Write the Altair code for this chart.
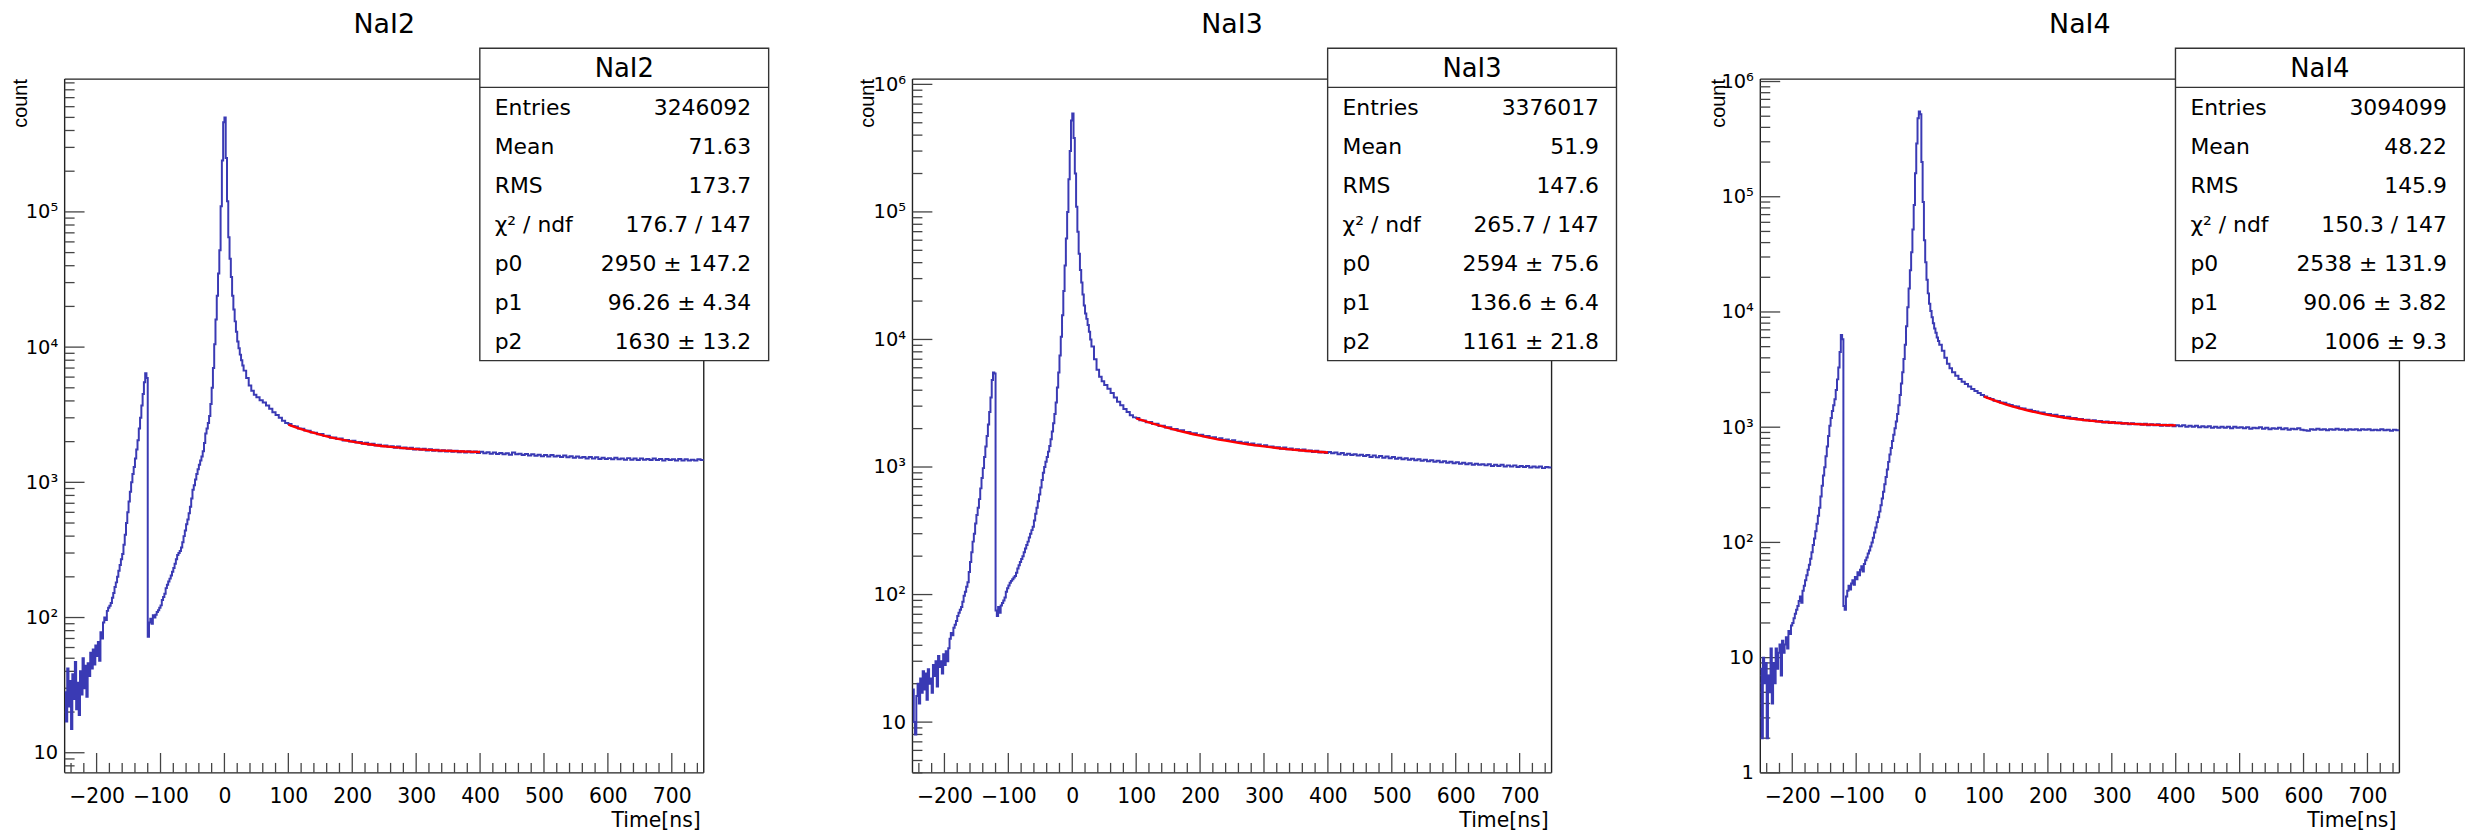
import altair as alt
import pandas as pd

FONT = "DejaVu Sans"
FONT_NARROW = "Liberation Sans"
W, H = 643, 698
BLUE = "#3a3ab4"

names = ["NaI2", "NaI3", "NaI4"]

# histogram bin left edges (ns)
front_edges = list(range(-250, 32, 2)) + [34, 38, 42, 46] + list(range(50, 100, 5))
tail_edges = list(range(100, 750, 5))

front_counts_1 = [
    28, 17, 42, 22, 34, 15, 38, 25, 47, 21, 33, 19, 40, 27, 50, 30, 44, 26, 46, 37, 55, 42, 58, 45, 62,
    52, 66, 48, 78, 70, 92, 100, 96, 112, 118, 122, 128, 140, 152, 168, 182, 200, 222, 245, 270, 295, 345, 410, 500, 600,
    720, 850, 1000, 1150, 1300, 1500, 1750, 2050, 2500, 3000, 3700, 4500, 5500, 6400, 5900, 72, 92, 98, 90, 104, 100, 105, 110, 113, 118,
    123, 135, 142, 150, 165, 175, 185, 194, 205, 218, 232, 250, 270, 290, 300, 310, 330, 360, 400, 440, 490, 530, 590, 660, 760,
    880, 950, 1050, 1150, 1250, 1350, 1450, 1550, 1700, 1950, 2300, 2500, 2750, 3100, 3800, 5000, 7000, 10500, 16000, 24000, 35000, 52000, 110000, 240000, 460000,
    500000, 250000, 120000, 65000, 45000, 33000, 24000, 19000, 15500, 13000, 11000, 9800, 8800, 8000, 7300, 6700,
    5900, 5200, 4750, 4450,
    4250, 4050, 3900, 3700, 3500, 3300, 3150, 3000, 2850, 2750,
]
front_counts_2 = [
    18, 10, 8, 16, 20, 14, 22, 17, 25, 18, 24, 15, 26, 20, 22, 17, 28, 23, 30, 19, 33, 27, 30, 24, 34,
    28, 36, 30, 38, 45, 50, 48, 55, 58, 62, 68, 72, 76, 80, 88, 98, 105, 115, 125, 150, 180, 215, 260, 300, 360,
    420, 480, 560, 680, 820, 980, 1200, 1450, 1750, 2150, 2700, 3500, 4800, 5500, 5400, 75, 68, 80, 72, 82, 86, 90, 95, 105, 112,
    118, 124, 128, 132, 136, 140, 148, 160, 170, 180, 190, 200, 215, 230, 245, 260, 280, 300, 320, 340, 380, 430, 480, 540, 610,
    690, 790, 900, 1000, 1100, 1200, 1320, 1460, 1650, 1900, 2200, 2600, 3200, 4200, 5500, 7500, 10500, 15500, 24000, 38000, 62000, 100000, 180000, 300000, 520000,
    590000, 380000, 200000, 110000, 70000, 47000, 35000, 28000, 22500, 18500, 16000, 14500, 13000, 11500, 10000, 8800,
    7000, 5800, 5100, 4700,
    4400, 4100, 3800, 3500, 3250, 3050, 2850, 2700, 2550, 2450,
]
front_counts_3 = [
    8, 2, 10, 6, 9, 2, 7, 5, 12, 4, 9, 6, 12, 8, 11, 13, 7, 14, 11, 13, 15, 12, 17, 16, 19,
    20, 22, 24, 26, 28, 31, 34, 30, 38, 42, 47, 52, 58, 64, 72, 82, 95, 108, 125, 145, 170, 200, 250, 310, 380,
    450, 560, 680, 840, 1030, 1200, 1380, 1550, 1750, 2100, 2600, 3300, 4500, 6300, 5800, 28, 26, 34, 38, 42, 39, 44, 47, 43, 50,
    48, 55, 52, 58, 62, 56, 65, 70, 74, 80, 85, 92, 100, 110, 122, 135, 150, 165, 185, 210, 240, 275, 320, 370, 430,
    500, 580, 660, 760, 860, 980, 1120, 1300, 1550, 1900, 2400, 3000, 3900, 5200, 7500, 11000, 16000, 23000, 33000, 52000, 85000, 160000, 290000, 480000, 550000,
    520000, 200000, 90000, 42000, 27000, 19000, 14500, 11800, 10200, 9000, 8000, 7200, 6600, 6000, 5600, 5200,
    4600, 4000, 3550, 3250,
    3000, 2800, 2620, 2480, 2370, 2250, 2150, 2060, 1980, 1900,
]

tail_counts_1 = [
    2700, 2610, 2590, 2500, 2490, 2420, 2410, 2340, 2330, 2270,
    2280, 2200, 2210, 2140, 2150, 2090, 2110, 2040, 2060, 2000,
    2030, 1970, 1990, 1930, 1960, 1900, 1930, 1870, 1900, 1850,
    1870, 1830, 1850, 1800, 1840, 1790, 1810, 1770, 1800, 1750,
    1780, 1740, 1770, 1720, 1760, 1710, 1740, 1700, 1730, 1690,
    1720, 1680, 1710, 1670, 1700, 1660, 1700, 1660, 1690, 1650,
    1680, 1640, 1670, 1630, 1660, 1620, 1650, 1610, 1640, 1600,
    1660, 1610, 1630, 1590, 1620, 1580, 1610, 1570, 1600, 1560,
    1590, 1550, 1590, 1550, 1570, 1540, 1580, 1530, 1560, 1520,
    1550, 1520, 1540, 1500, 1540, 1500, 1530, 1490, 1520, 1490,
    1510, 1480, 1520, 1480, 1500, 1470, 1510, 1470, 1500, 1460,
    1500, 1470, 1490, 1460, 1500, 1460, 1490, 1450, 1490, 1460,
    1480, 1450, 1490, 1450, 1480, 1450, 1470, 1450, 1480, 1460,
]
tail_counts_2 = [
    2420, 2330, 2320, 2240, 2250, 2170, 2180, 2100, 2110, 2040,
    2050, 1980, 1990, 1930, 1940, 1880, 1880, 1830, 1840, 1780,
    1790, 1740, 1750, 1700, 1710, 1660, 1680, 1630, 1640, 1600,
    1620, 1570, 1580, 1540, 1560, 1510, 1530, 1480, 1500, 1460,
    1480, 1440, 1450, 1420, 1430, 1390, 1420, 1380, 1400, 1360,
    1380, 1350, 1370, 1330, 1350, 1310, 1340, 1300, 1320, 1290,
    1310, 1280, 1300, 1260, 1290, 1250, 1270, 1240, 1260, 1230,
    1250, 1220, 1240, 1200, 1230, 1190, 1220, 1180, 1210, 1170,
    1200, 1160, 1180, 1150, 1170, 1140, 1160, 1130, 1150, 1120,
    1140, 1110, 1130, 1100, 1120, 1090, 1110, 1080, 1100, 1070,
    1090, 1060, 1080, 1050, 1070, 1040, 1060, 1040, 1050, 1030,
    1050, 1020, 1040, 1020, 1040, 1010, 1030, 1010, 1030, 1000,
    1020, 1000, 1020, 990, 1010, 990, 1010, 980, 1000, 990,
]
tail_counts_3 = [
    1850, 1790, 1760, 1700, 1690, 1640, 1630, 1580, 1560, 1520,
    1510, 1460, 1450, 1420, 1420, 1380, 1370, 1340, 1340, 1300,
    1300, 1270, 1280, 1240, 1250, 1210, 1230, 1190, 1200, 1170,
    1180, 1150, 1160, 1130, 1150, 1120, 1130, 1100, 1120, 1090,
    1110, 1080, 1100, 1070, 1090, 1060, 1080, 1060, 1070, 1050,
    1070, 1040, 1060, 1040, 1060, 1030, 1050, 1030, 1050, 1020,
    1040, 1020, 1040, 1010, 1030, 1010, 1030, 1000, 1020, 1000,
    1020, 990, 1010, 990, 1010, 990, 1010, 980, 1010, 990,
    1000, 980, 1000, 970, 990, 980, 1000, 970, 990, 960,
    980, 970, 990, 960, 980, 950, 970, 960, 980, 950,
    940, 930, 960, 950, 970, 950, 960, 940, 960, 950,
    970, 950, 960, 940, 960, 950, 960, 940, 960, 950,
    960, 940, 950, 940, 960, 940, 950, 930, 950, 940,
]

front_counts = [front_counts_1, front_counts_2, front_counts_3]
tail_counts = [tail_counts_1, tail_counts_2, tail_counts_3]

# fit curve (red)
fit_x = [100, 120, 140, 160, 180, 200, 220, 240, 260, 280, 300, 320, 340, 360, 380, 400]
fit_y = [
    [2674, 2478, 2319, 2190, 2085, 1999, 1930, 1874, 1828, 1791, 1761, 1736, 1716, 1700, 1687, 1676],
    [2408, 2239, 2092, 1965, 1855, 1761, 1679, 1609, 1548, 1495, 1450, 1410, 1376, 1347, 1322, 1300],
    [1842, 1676, 1542, 1435, 1350, 1281, 1227, 1183, 1147, 1119, 1097, 1079, 1064, 1053, 1043, 1036],
]

stat_labels = ["Entries", "Mean", "RMS", "χ² / ndf", "p0", "p1", "p2"]
stat_values = [
    ["3246092", "71.63", "173.7", "176.7 / 147", "2950 ± 147.2", "96.26 ± 4.34", "1630 ± 13.2"],
    ["3376017", "51.9", "147.6", "265.7 / 147", "2594 ± 75.6", "136.6 ± 6.4", "1161 ± 21.8"],
    ["3094099", "48.22", "145.9", "150.3 / 147", "2538 ± 131.9", "90.06 ± 3.82", "1006 ± 9.3"],
]

y_domains = [[7.1, 960000], [4.0, 1100000], [1.0, 1050000]]
y_label_values = [
    [10, 100, 1000, 10000, 100000],
    [10, 100, 1000, 10000, 100000, 1000000],
    [1, 10, 100, 1000, 10000, 100000, 1000000],
]
x_label_values = [-200, -100, 0, 100, 200, 300, 400, 500, 600, 700]
x_minor_values = [v for v in range(-240, 750, 20) if v % 100 != 0]

count_title_x = [-44, -45, -42]

LABEL_EXPR = ("datum.value < 5 ? '1' : datum.value < 50 ? '10' : "
              "'10' + ['', '', '²', '³', '⁴', '⁵', '⁶'][round(log(datum.value) / LN10)]")


def y_ticks(dom):
    major, minor = [], []
    for d in range(0, 7):
        for m in range(1, 10):
            v = m * 10 ** d
            if dom[0] <= v <= dom[1]:
                (major if m == 1 else minor).append(v)
    return major, minor


def panel(i):
    one = pd.DataFrame({"k": [0]})
    edges = front_edges + tail_edges + [750]
    counts = front_counts[i] + tail_counts[i]
    counts = counts + [counts[-1]]
    hist_df = pd.DataFrame({"t": edges, "c": counts})
    fit_df = pd.DataFrame({"t": fit_x, "c": fit_y[i]})

    xs = alt.Scale(domain=[-250, 750], nice=False, zero=False)
    ys = alt.Scale(type="log", domain=y_domains[i], nice=False)
    xaxis = alt.Axis(values=x_label_values, title=None, domain=False, ticks=False, grid=False,
                     labelFont=FONT, labelFontSize=20.5, labelPadding=14, labelColor="#000",
                     labelFlush=False, labelOverlap=False)
    yaxis = alt.Axis(values=y_label_values[i], title=None, domain=False, ticks=False, grid=False,
                     labelFont=FONT, labelFontSize=19.5, labelPadding=7, labelColor="#000",
                     labelExpr=LABEL_EXPR, labelOverlap=False, labelFlush=False)
    X = lambda f: alt.X(f, scale=xs, axis=xaxis)
    Y = lambda f: alt.Y(f, scale=ys, axis=yaxis)

    layers = []
    # frame
    fr = dict(color="#222", strokeWidth=1.4)
    layers.append(alt.Chart(one).mark_rule(**fr).encode(x=alt.value(0), x2=alt.value(W), y=alt.value(0)))
    layers.append(alt.Chart(one).mark_rule(**fr).encode(x=alt.value(0), x2=alt.value(W), y=alt.value(H)))
    layers.append(alt.Chart(one).mark_rule(**fr).encode(x=alt.value(0), y=alt.value(0), y2=alt.value(H)))
    layers.append(alt.Chart(one).mark_rule(**fr).encode(x=alt.value(W), y=alt.value(0), y2=alt.value(H)))

    # ticks (inward)
    tk = dict(color="#444", strokeWidth=1.3)
    xmaj = pd.DataFrame({"v": x_label_values})
    xmin = pd.DataFrame({"v": x_minor_values})
    layers.append(alt.Chart(xmaj).mark_rule(**tk).encode(x=X("v:Q"), y=alt.value(H), y2=alt.value(H - 20)))
    layers.append(alt.Chart(xmin).mark_rule(**tk).encode(x=X("v:Q"), y=alt.value(H), y2=alt.value(H - 10)))
    ymaj_v, ymin_v = y_ticks(y_domains[i])
    layers.append(alt.Chart(pd.DataFrame({"v": ymaj_v})).mark_rule(**tk).encode(y=Y("v:Q"), x=alt.value(0), x2=alt.value(20)))
    layers.append(alt.Chart(pd.DataFrame({"v": ymin_v})).mark_rule(**tk).encode(y=Y("v:Q"), x=alt.value(0), x2=alt.value(10)))

    # histogram
    layers.append(alt.Chart(hist_df).mark_line(interpolate="step-after", color=BLUE, strokeWidth=2, clip=True)
                  .encode(x=X("t:Q"), y=Y("c:Q")))
    # fit
    layers.append(alt.Chart(fit_df).mark_line(interpolate="monotone", color="#ff0000", strokeWidth=2.4, clip=True)
                  .encode(x=X("t:Q"), y=Y("c:Q")))

    # stats box
    bx0, bx1, by0, by1, bdiv = 417.7, 708.3, -31, 283.3, 8.3
    layers.append(alt.Chart(one).mark_rect(fill="white", stroke="#333", strokeWidth=1.4)
                  .encode(x=alt.value(bx0), x2=alt.value(bx1), y=alt.value(by0), y2=alt.value(by1)))
    layers.append(alt.Chart(one).mark_rule(color="#333", strokeWidth=1.4)
                  .encode(x=alt.value(bx0), x2=alt.value(bx1), y=alt.value(bdiv)))
    layers.append(alt.Chart(pd.DataFrame({"s": [names[i]]})).mark_text(font=FONT, fontSize=26, color="#000", align="center", baseline="middle")
                  .encode(x=alt.value((bx0 + bx1) / 2), y=alt.value(-10.3), text="s:N"))
    for r, (lab, val) in enumerate(zip(stat_labels, stat_values[i])):
        yy = 29 + 39.2 * r
        layers.append(alt.Chart(pd.DataFrame({"s": [lab]})).mark_text(font=FONT, fontSize=22, color="#000", align="left", baseline="middle")
                      .encode(x=alt.value(432.7), y=alt.value(yy), text="s:N"))
        layers.append(alt.Chart(pd.DataFrame({"s": [val]})).mark_text(font=FONT, fontSize=22, color="#000", align="right", baseline="middle")
                      .encode(x=alt.value(690.7), y=alt.value(yy), text="s:N"))

    # titles
    layers.append(alt.Chart(pd.DataFrame({"s": [names[i]]})).mark_text(font=FONT, fontSize=27, color="#000", align="center", baseline="middle")
                  .encode(x=alt.value(W / 2), y=alt.value(-54.5), text="s:N"))
    layers.append(alt.Chart(pd.DataFrame({"s": ["count"]})).mark_text(font=FONT_NARROW, fontSize=20, color="#000", align="right", baseline="middle", angle=270)
                  .encode(x=alt.value(count_title_x[i]), y=alt.value(0), text="s:N"))
    layers.append(alt.Chart(pd.DataFrame({"s": ["Time[ns]"]})).mark_text(font=FONT, fontSize=20.5, color="#000", align="right", baseline="middle")
                  .encode(x=alt.value(640), y=alt.value(H + 48.7), text="s:N"))

    return alt.layer(*layers).properties(width=W, height=H)


chart = alt.hconcat(panel(0), panel(1), panel(2), spacing=210, bounds="flush").configure_view(
    stroke="transparent").properties(padding={"left": 2, "top": 0, "right": 0, "bottom": 0})

chart.save("out.html", embed_options={"renderer": "svg", "actions": False})
